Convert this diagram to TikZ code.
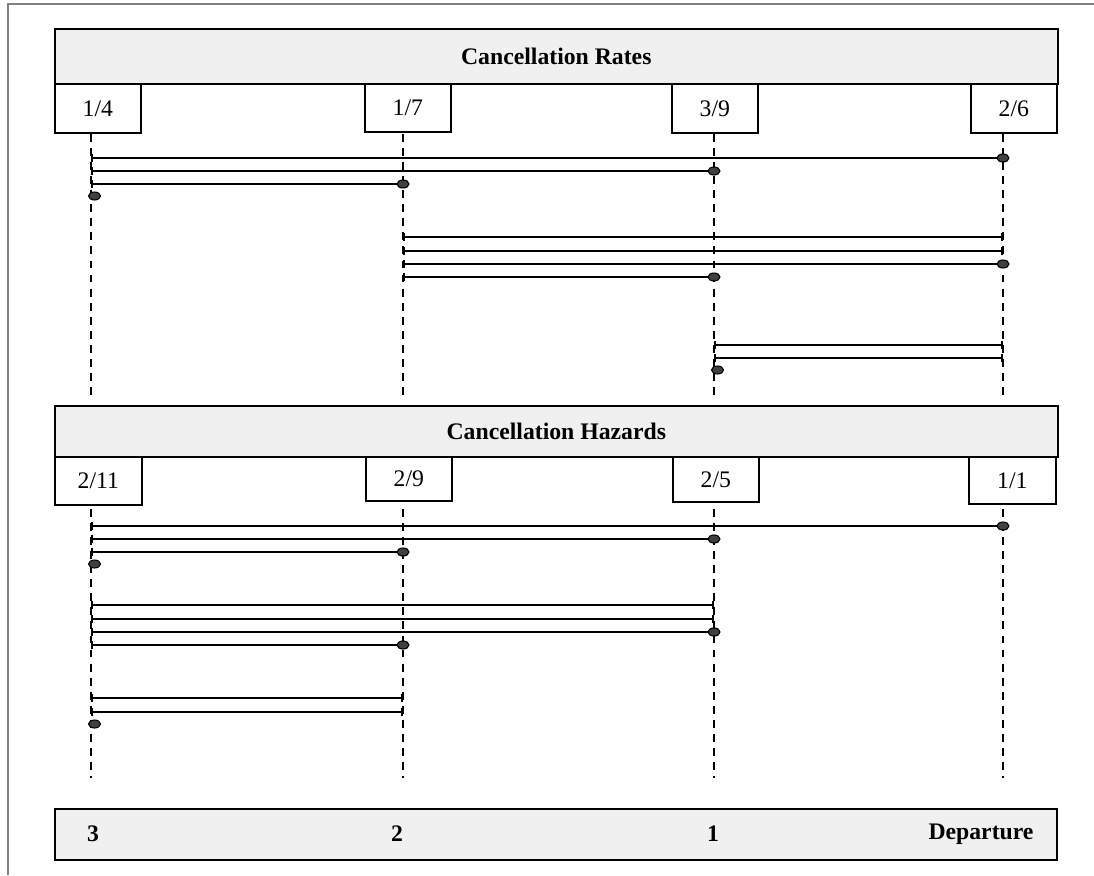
\documentclass[tikz,border=0pt]{standalone}
\usepackage{fontspec}
\setmainfont{Liberation Serif}
\usetikzlibrary{arrows.meta,shapes.geometric}

\tikzset{
  txt/.style={font=\fontsize{13.5}{16}\selectfont},
  head/.style={draw, line width=1pt, fill=gray!12, anchor=north west, inner sep=0pt,
    font=\fontsize{13.5}{16}\selectfont\bfseries},
  share/.style={draw, line width=1pt, fill=white, anchor=north west, inner sep=0pt,
    minimum width=1.72cm, txt},
  guide/.style={line width=0.9pt, dash pattern=on 4.5pt off 3.5pt},
  span/.style={line width=1pt},
  knot/.style={ellipse, draw, line width=0.6pt, fill=black!75, inner sep=0pt,
    minimum width=0.24cm, minimum height=0.16cm}
}

\begin{document}
\begin{tikzpicture}[x=0.02cm, y=-0.02cm]
\useasboundingbox (0,0) rectangle (1094,875);

\draw[gray, line width=1pt] (8,875) -- (8,4) -- (1094,4);

% columns
\coordinate (col3) at (91,0);
\coordinate (col2) at (403,0);
\coordinate (col1) at (714,0);
\coordinate (col0) at (1003,0);

% upper panel
\node[head, minimum width=20.06cm, minimum height=1.1cm] (rates) at (54,28) {Cancellation Rates};
\node[share, minimum height=0.98cm] (r3) at (54,83) {1/4};
\node[share, minimum height=0.96cm] (r2) at (364,83) {1/7};
\node[share, minimum height=0.98cm] (r1) at (671,83) {3/9};
\node[share, minimum height=0.98cm] (r0) at (970,83) {2/6};

% lower panel
\node[head, minimum width=20.06cm, minimum height=1.02cm] (hazards) at (54,405) {Cancellation Hazards};
\node[share, minimum height=0.96cm, minimum width=1.74cm] (h3) at (54,456) {2/11};
\node[share, minimum height=0.88cm] (h2) at (365,456) {2/9};
\node[share, minimum height=0.90cm] (h1) at (672,456) {2/5};
\node[share, minimum height=0.94cm, minimum width=1.74cm] (h0) at (968,456) {1/1};

% time axis
\node[head, minimum width=20.04cm, minimum height=1.02cm] (axis) at (54,808) {};
\node[txt, font=\fontsize{13.5}{16}\selectfont\bfseries] (t3) at (93,834) {3};
\node[txt, font=\fontsize{13.5}{16}\selectfont\bfseries] (t2) at (397,834) {2};
\node[txt, font=\fontsize{13.5}{16}\selectfont\bfseries] (t1) at (713,834) {1};
\node[txt, font=\fontsize{13.5}{16}\selectfont\bfseries] (t0) at (981,834) {Departure};

\foreach \c in {col3,col2,col1,col0}{
    \draw[guide] (\c |- 0,134) -- (\c |- 0,400);
    \draw[guide] (\c |- 0,509) -- (\c |- 0,778);
}

% lines that stop at a tick
\foreach \y/\a/\b in {237/col2/col0, 251/col2/col0, 345/col1/col0, 358/col1/col0,%
            605/col3/col1, 619/col3/col1, 698/col3/col2, 712/col3/col2%
            }
    \draw[span, {Bar[width=5pt]}-{Bar[width=5pt]}] (\a |- 0,\y) -- (\b |- 0,\y);

% lines that stop at a dot
\foreach \y/\a/\b in {158/col3/col0, 171/col3/col1, 184/col3/col2, 264/col2/col0, 277/col2/col1,%
            526/col3/col0, 539/col3/col1, 552/col3/col2, 632/col3/col1, 645/col3/col2%
            }
    \draw[span, {Bar[width=5pt]}-] (\a |- 0,\y) -- (\b |- 0,\y) node[knot] (k\y) {};

% single dots
\foreach \y/\a in {196/col3, 370/col1, 564/col3, 724/col3}
    \node[knot, xshift=2pt] (k\y) at (\a |- 0,\y) {};

\end{tikzpicture}
\end{document}
